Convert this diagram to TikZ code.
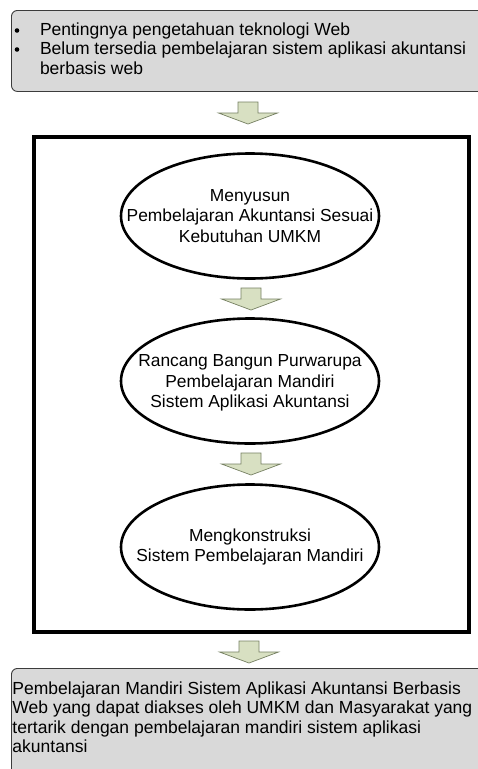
\documentclass[tikz,border=0pt]{standalone}
\usepackage{fontspec}
\setmainfont{Liberation Sans}
\usetikzlibrary{shapes.geometric}
\definecolor{boxgray}{RGB}{217,217,217}
\definecolor{boxline}{RGB}{60,60,60}
\definecolor{arrowfill}{RGB}{216,224,194}
\definecolor{arrowline}{RGB}{118,128,98}
\begin{document}
\begin{tikzpicture}[x=1pt,y=-1pt,
  txt/.style={inner sep=0pt, outer sep=0pt, font=\fontsize{17.5}{20}\selectfont},
  grayBox/.style={draw=boxline, line width=0.9pt, fill=boxgray, rounded corners=6pt, inner sep=0pt, anchor=north west},
  bulletdot/.style={circle, fill=black, inner sep=0pt, minimum size=4.6pt},
  stage/.style={ellipse, draw=black, line width=2.6pt, fill=white, minimum width=258pt, minimum height=125pt, inner sep=0pt},
  stagetext/.style={inner sep=0pt, align=center, font=\fontsize{17.4}{20.5}\selectfont},
  barrow/.style={fill=arrowfill, draw=arrowline, line width=0.7pt, line join=miter},
  blockarrow/.pic={\path[barrow] (-10,0) -- (10,0) -- (10,11) -- (29.5,11) -- (0,22) -- (-29.5,11) -- (-10,11) -- cycle;}
]
\useasboundingbox (0,0) rectangle (478,769);
\fill[white] (0,0) rectangle (478,769);

% top box
\node[grayBox, minimum width=520pt, minimum height=81pt] (top) at (11,10) {};
\node[bulletdot] (d1) at (17,30.5) {};
\node[bulletdot] (d2) at (17,49.5) {};
\node[txt, anchor=base west] (t1) at (40,35) {Pentingnya pengetahuan teknologi Web};
\node[txt, anchor=base west] (t2) at (40,54.5) {Belum tersedia pembelajaran sistem aplikasi akuntansi};
\node[txt, anchor=base west] (t3) at (40,74) {berbasis web};

% frame
\node[draw=black, line width=4pt, inner sep=0pt, minimum width=435pt, minimum height=495pt, anchor=north west] (frame) at (31.5,135) {};

% stages
\node[stage] (s1) at (250,216) {};
\node[stagetext] (s1t) at (s1.center) {Menyusun\\Pembelajaran Akuntansi Sesuai\\Kebutuhan UMKM};
\node[stage] (s2) at (250,381) {};
\node[stagetext] (s2t) at ([yshift=-2pt]s2.center) {Rancang Bangun Purwarupa\\Pembelajaran Mandiri\\Sistem Aplikasi Akuntansi};
\node[stage] (s3) at (250,547) {};
\node[stagetext] (s3t) at (s3.center) {Mengkonstruksi\\Sistem Pembelajaran Mandiri};

% bottom box
\node[grayBox, minimum width=520pt, minimum height=140pt] (bottom) at (11,668) {};
\node[txt, anchor=base west] (b1) at (12.5,694) {Pembelajaran Mandiri Sistem Aplikasi Akuntansi Berbasis};
\node[txt, anchor=base west] (b2) at (12.5,713.5) {Web yang dapat diakses oleh UMKM dan Masyarakat yang};
\node[txt, anchor=base west] (b3) at (12.5,733) {tertarik dengan pembelajaran mandiri sistem aplikasi};
\node[txt, anchor=base west] (b4) at (12.5,752.5) {akuntansi};

% block arrows
\coordinate (a1) at (248,102);
\coordinate (a2) at (251,288);
\coordinate (a3) at (251,453);
\coordinate (a4) at (249,641);
\pic at (a1) {blockarrow};
\pic at (a2) {blockarrow};
\pic at (a3) {blockarrow};
\pic at (a4) {blockarrow};
\end{tikzpicture}
\end{document}
